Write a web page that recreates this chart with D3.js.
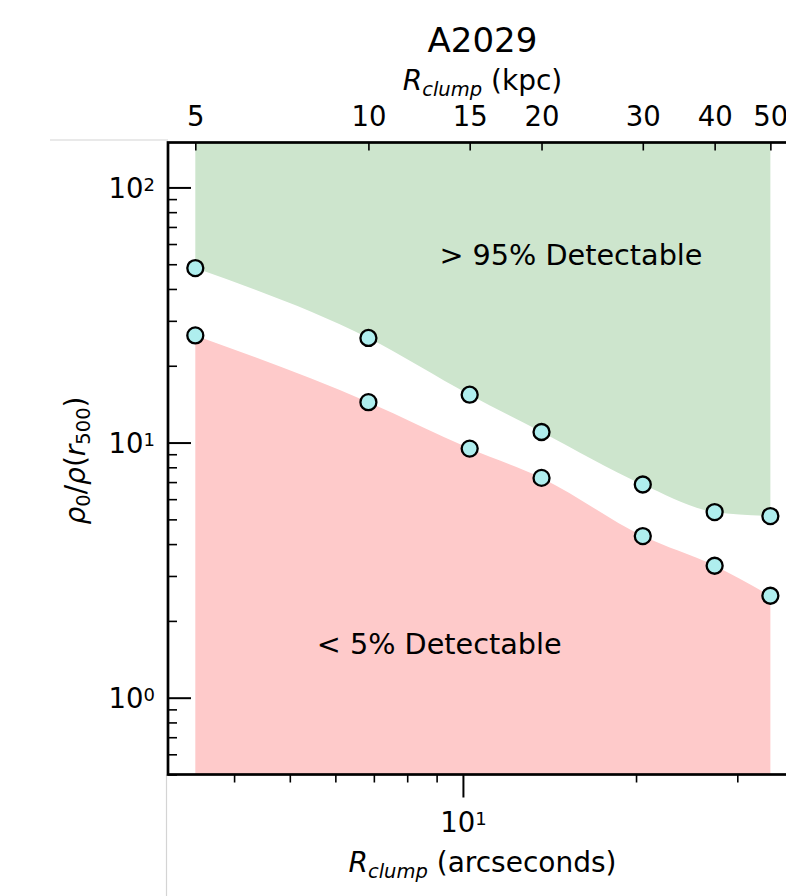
<!DOCTYPE html>
<html>
<head>
  <meta charset="utf-8">
  <script src="https://cdn.jsdelivr.net/npm/d3@7"></script>
  <style>
    body { margin: 0; background: #fff; }
    svg { display: block; }
    text { font-family: "DejaVu Sans", sans-serif; fill: #000; }
  </style>
</head>
<body>
<script>
  'use strict';

  // ---- data ----
  var radiusKpc = [5, 10, 15, 20, 30, 40, 50];
  var upper95 = [48.3, 25.7, 15.4, 11.0, 6.85, 5.34, 5.15];   // > 95% detectable threshold
  var lower5 = [26.3, 14.4, 9.47, 7.27, 4.30, 3.29, 2.51];    // < 5% detectable threshold

  var kpcTicks = [5, 10, 15, 20, 30, 40, 50];
  var arcMajor = [10];
  var arcMinor = [4, 5, 6, 7, 8, 9, 20, 30];
  var yMajor = [1, 10, 100];
  var yMinor = [0.5, 0.6, 0.7, 0.8, 0.9, 2, 3, 4, 5, 6, 7, 8, 9, 20, 30, 40, 50, 60, 70, 80, 90];

  var kpcPerArcsec = 1.46;
  var xLim = [3.07, 38.1];   // arcseconds
  var yLim = [0.5, 150];

  // annotation anchors in data units (arcsec, rho ratio)
  var notes = [
    {text: '> 95% Detectable', x: 9.1, y: 49.6},
    {text: '< 5% Detectable', x: 5.57, y: 1.49}
  ];

  // ---- layout ----
  var W = 786, H = 896;
  var mLeft = 168, mTop = 142.5, width = 629, height = 632;
  var tickFont = '27.5px', supFont = '18px', labFont = '28px', subFont = '19.5px';

  var svg = d3.select('body').append('svg')
      .attr('width', W)
      .attr('height', H);

  // faint page borders seen in the crop
  svg.append('line').attr('x1', 50).attr('x2', mLeft).attr('y1', 140).attr('y2', 140)
      .attr('stroke', '#d4d4d4').attr('stroke-width', 1.2);
  svg.append('line').attr('x1', 166.5).attr('x2', 166.5).attr('y1', mTop + height).attr('y2', H)
      .attr('stroke', '#d4d4d4').attr('stroke-width', 1.2);

  var g = svg.append('g').attr('transform', 'translate(' + mLeft + ',' + mTop + ')');

  var x = d3.scaleLog().domain(xLim).range([0, width]);
  var xKpc = d3.scaleLog().domain([xLim[0] * kpcPerArcsec, xLim[1] * kpcPerArcsec]).range([0, width]);
  var y = d3.scaleLog().domain(yLim).range([height, 0]);

  var pts = radiusKpc.map(function(r, i) {
    return {r: r, hi: upper95[i], lo: lower5[i]};
  });

  // shaded regions
  var greenArea = d3.area()
      .curve(d3.curveMonotoneX)
      .x(function(d) { return xKpc(d.r); })
      .y0(function(d) { return y(d.hi); })
      .y1(function() { return y(yLim[1]); });
  var redArea = d3.area()
      .curve(d3.curveMonotoneX)
      .x(function(d) { return xKpc(d.r); })
      .y0(function(d) { return y(d.lo); })
      .y1(function() { return y(yLim[0]); });

  g.append('path').datum(pts).attr('d', greenArea).attr('fill', '#cde5cd');
  g.append('path').datum(pts).attr('d', redArea).attr('fill', '#fecaca');

  // annotations
  g.selectAll('text.note').data(notes).enter().append('text')
      .attr('class', 'note')
      .attr('x', function(d) { return x(d.x); })
      .attr('y', function(d) { return y(d.y); })
      .style('font-size', '28.7px')
      .text(function(d) { return d.text; });

  // markers
  var both = [];
  pts.forEach(function(d) { both.push({r: d.r, v: d.hi}); both.push({r: d.r, v: d.lo}); });
  g.selectAll('circle.pt').data(both).enter().append('circle')
      .attr('class', 'pt')
      .attr('cx', function(d) { return xKpc(d.r); })
      .attr('cy', function(d) { return y(d.v); })
      .attr('r', 8)
      .attr('fill', '#afeeee')
      .attr('stroke', '#000')
      .attr('stroke-width', 2.3);

  // ---- axes ----
  function styleAxis(sel, w) {
    sel.select('.domain').remove();
    sel.selectAll('.tick line').attr('stroke', '#000').attr('stroke-width', w);
  }

  function powLabel(t, d) {
    t.append('tspan').text('10');
    t.append('tspan').attr('dy', -7).style('font-size', supFont)
        .text(String(Math.round(Math.log10(d))));
  }

  // left: inward ticks
  var yMin = g.append('g').call(d3.axisLeft(y).tickValues(yMinor).tickSize(-9).tickFormat(''));
  styleAxis(yMin, 1.6);
  var yMaj = g.append('g').call(d3.axisLeft(y).tickValues(yMajor).tickSize(-23).tickFormat(''));
  styleAxis(yMaj, 2);
  yMaj.selectAll('.tick').each(function(d) {
    var t = d3.select(this).append('text')
        .attr('x', -13).attr('y', 10)
        .attr('text-anchor', 'end')
        .style('font-size', tickFont);
    powLabel(t, d);
  });

  // bottom: outward ticks, arcseconds
  var xMin = g.append('g').attr('transform', 'translate(0,' + height + ')')
      .call(d3.axisBottom(x).tickValues(arcMinor).tickSize(8).tickFormat(''));
  styleAxis(xMin, 1.6);
  var xMaj = g.append('g').attr('transform', 'translate(0,' + height + ')')
      .call(d3.axisBottom(x).tickValues(arcMajor).tickSize(23).tickFormat(''));
  styleAxis(xMaj, 2);
  xMaj.selectAll('.tick').each(function(d) {
    var t = d3.select(this).append('text')
        .attr('x', 0).attr('y', 57.5)
        .attr('text-anchor', 'middle')
        .style('font-size', tickFont);
    powLabel(t, d);
  });

  // top: inward ticks, kpc
  var xTop = g.append('g')
      .call(d3.axisTop(xKpc).tickValues(kpcTicks).tickSize(-8).tickPadding(16.5)
        .tickFormat(d3.format('d')));
  styleAxis(xTop, 1.6);
  xTop.selectAll('.tick text').style('font-size', tickFont).attr('fill', '#000');

  // frame
  g.append('rect')
      .attr('width', width).attr('height', height)
      .attr('fill', 'none').attr('stroke', '#000').attr('stroke-width', 2.7);

  // ---- titles ----
  svg.append('text')
      .attr('x', mLeft + width / 2).attr('y', 52)
      .attr('text-anchor', 'middle')
      .style('font-size', '34px')
      .text('A2029');

  function rLabel(yPos, unit) {
    var t = svg.append('text')
        .attr('x', mLeft + width / 2).attr('y', yPos)
        .attr('text-anchor', 'middle')
        .style('font-size', labFont);
    t.append('tspan').style('font-style', 'italic').text('R');
    t.append('tspan').style('font-style', 'italic').style('font-size', subFont).attr('dy', 6).text('clump');
    t.append('tspan').attr('dy', -6).text(' (' + unit + ')');
  }
  rLabel(89.5, 'kpc');
  rLabel(872, 'arcseconds');

  var yLab = svg.append('text')
      .attr('transform', 'translate(85,' + (mTop + height / 2 + 2) + ') rotate(-90)')
      .attr('text-anchor', 'middle')
      .style('font-size', labFont);
  yLab.append('tspan').style('font-style', 'italic').text('ρ');
  yLab.append('tspan').style('font-size', subFont).attr('dy', 5).text('0');
  yLab.append('tspan').attr('dy', -5).text('/');
  yLab.append('tspan').style('font-style', 'italic').text('ρ');
  yLab.append('tspan').text('(');
  yLab.append('tspan').style('font-style', 'italic').text('r');
  yLab.append('tspan').style('font-size', subFont).attr('dy', 5).text('500');
  yLab.append('tspan').attr('dy', -5).text(')');
</script>
</body>
</html>
